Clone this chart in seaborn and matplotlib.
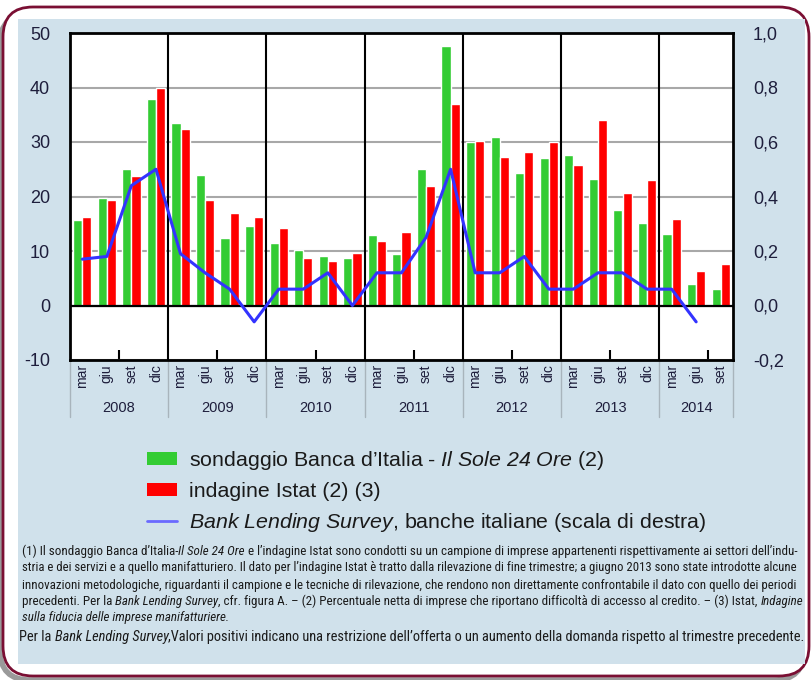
import numpy as np
import pandas as pd
import matplotlib
matplotlib.use('Agg')
import matplotlib.pyplot as plt
import matplotlib.font_manager as fm
import matplotlib.transforms as mtransforms
from matplotlib.patches import Patch, FancyBboxPatch, Rectangle
from matplotlib.lines import Line2D
import seaborn as sns

## Data
years = ['2008', '2009', '2010', '2011', '2012', '2013', '2014']
quarters = ['mar', 'giu', 'set', 'dic']
n_quarters = 27  # 2008 mar ... 2014 set

sondaggio = [15.6, 19.7, 25.1, 37.9, 33.5, 23.9, 12.3, 14.5, 11.5, 10.1, 9.0, 8.8, 12.9, 9.4,
             25.1, 47.7, 30.0, 30.9, 24.3, 27.1, 27.7, 23.2, 17.6, 15.1, 13.2, 4.0, 3.0]
istat = [16.2, 19.4, 23.8, 39.9, 32.3, 19.4, 17.0, 16.2, 14.2, 8.8, 8.1, 9.7, 11.9, 13.5,
         21.9, 36.9, 30.2, 27.3, 28.1, 30.0, 25.7, 34.0, 20.6, 23.0, 15.9, 6.4, 7.7]
bls = [0.17, 0.18, 0.44, 0.50, 0.19, 0.12, 0.06, -0.06, 0.06, 0.06, 0.12, 0.0, 0.12, 0.12,
       0.25, 0.50, 0.12, 0.12, 0.18, 0.06, 0.06, 0.12, 0.12, 0.06, 0.06, -0.06]

left_ticks = [-10, 0, 10, 20, 30, 40, 50]
right_ticks = [-0.2, 0.0, 0.2, 0.4, 0.6, 0.8, 1.0]

periods = [f'{y} {q}' for y in years for q in quarters][:n_quarters]
q_labels = [p.split()[1] for p in periods]

lab_sond = 'sondaggio Banca d\u2019Italia'
lab_istat = 'indagine Istat'
df = pd.DataFrame({'periodo': periods * 2,
                   'valore': sondaggio + istat,
                   'serie': [lab_sond] * n_quarters + [lab_istat] * n_quarters})
df_bls = pd.DataFrame({'pos': np.arange(len(bls)), 'bls': bls})

GREEN = '#33cc33'
RED = '#ff0000'
BLUE = '#3333ff'
PANEL = '#d0e1eb'
MAROON = '#7a0f33'
TXT = '#1e1e3c'

sns.set_theme(style='white')
names = {f.name for f in fm.fontManager.ttflist}
NARROW = 'Liberation Sans'
for cand in ['Liberation Sans Narrow', 'Arial Narrow', 'Roboto Condensed', 'Open Sans Condensed']:
    if cand in names:
        NARROW = cand
        break
plt.rcParams['font.family'] = ['Liberation Sans', 'DejaVu Sans']
# math mode is only used for the italic parts of the legend labels
plt.rcParams['mathtext.fontset'] = 'custom'
plt.rcParams['mathtext.rm'] = 'Liberation Sans:italic'
plt.rcParams['mathtext.it'] = 'Liberation Sans:italic'


def it(s):
    return r'$\mathit{' + s.replace(' ', r'\ ') + '}$'


fig = plt.figure(figsize=(8.11, 6.80), dpi=100)
fig.patch.set_facecolor('white')

# frame and panel
fig.patches.append(FancyBboxPatch((0.00, 0.0), 8.04, 6.66, boxstyle='round,pad=0,rounding_size=0.3',
                                  transform=fig.dpi_scale_trans, facecolor='none',
                                  edgecolor='#9a9a9a', lw=4, zorder=-12))
fig.patches.append(FancyBboxPatch((0.03, 0.04), 8.06, 6.69, boxstyle='round,pad=0,rounding_size=0.3',
                                  transform=fig.dpi_scale_trans, facecolor='white',
                                  edgecolor=MAROON, lw=2, zorder=-11))
fig.patches.append(Rectangle((0.18, 0.16), 7.87, 6.45, transform=fig.dpi_scale_trans,
                             facecolor=PANEL, edgecolor='none', zorder=-10))

ax = fig.add_axes([70 / 811, 1 - 360 / 680, 663 / 811, 327 / 680])
ax.set_facecolor('white')
sns.barplot(data=df, x='periodo', y='valore', hue='serie', order=periods,
            palette=[GREEN, RED], width=0.75, saturation=1, errorbar=None,
            legend=False, ax=ax, zorder=2)
ax.set_xlim(-0.5, n_quarters - 0.5)
ax.set_ylim(-10, 50)
ax.set_yticks(left_ticks)
ax.set_yticklabels([str(t) for t in left_ticks])
ax.set_axisbelow(True)
ax.yaxis.grid(True, color='#a8a8a8', lw=1.5)
ax.axhline(0, color='black', lw=1.6, zorder=3)
for b in range(3, n_quarters - 1, 4):
    ax.axvline(b + 0.5, color='black', lw=1.5, zorder=3)
for s in ax.spines.values():
    s.set_color('black')
    s.set_linewidth(2)
    s.set_visible(True)
ax.set_xlabel('')
ax.set_ylabel('')

# quarter labels and boundary ticks
ax.set_xticks(range(n_quarters))
ax.set_xticklabels(q_labels, rotation=90, fontsize=10, color=TXT)
ax.tick_params(axis='x', length=0, pad=3)
ax.tick_params(axis='y', length=0, pad=14.4, labelsize=13, labelcolor=TXT)
short = [i + 0.5 for i in range(n_quarters - 1) if i % 4 in (0, 2)]
tall = [i + 0.5 for i in range(n_quarters - 1) if i % 4 == 1]
ax.set_xticks(short, minor=True)
ax.tick_params(axis='x', which='minor', direction='in', length=4.5, width=1.5, color='black')
sec = ax.secondary_xaxis('bottom')
sec.set_xticks(tall)
sec.tick_params(direction='in', length=7.5, width=1.5, color='black', labelbottom=False)
sec.spines['bottom'].set_visible(False)

# year labels and separators
trans = mtransforms.blended_transform_factory(ax.transData, ax.transAxes)
for k, y in enumerate(years):
    first = k * 4
    last = min(first + 3, n_quarters - 1)
    ax.text((first + last) / 2, -0.147, y, transform=trans, ha='center', va='center',
            fontsize=10.5, color=TXT)
for b in [-0.5] + [i + 0.5 for i in range(3, n_quarters - 1, 4)] + [n_quarters - 0.5]:
    ax.plot([b, b], [0, -0.174], transform=trans, color='#a8b4bc', lw=1, clip_on=False)

# right axis: Bank Lending Survey
ax2 = ax.twinx()
sns.lineplot(data=df_bls, x='pos', y='bls', color=BLUE, lw=2.2, ax=ax2, zorder=5)
ax2.set_ylim(-0.2, 1.0)
ax2.set_yticks(right_ticks)
ax2.set_yticklabels([f'{t:.1f}'.replace('.', ',') for t in right_ticks])
ax2.tick_params(axis='y', length=0, pad=14.4, labelsize=13, labelcolor=TXT)
ax2.set_ylabel('')
ax2.grid(False)
for s in ax2.spines.values():
    s.set_visible(False)

# legend
handles = [Patch(facecolor=GREEN, edgecolor='none'),
           Patch(facecolor=RED, edgecolor='none'),
           Line2D([], [], color='#6a6aff', lw=2)]
labels = ['sondaggio Banca d\u2019Italia - ' + it('Il Sole 24 Ore') + ' (2)',
          'indagine Istat (2) (3)',
          it('Bank Lending Survey') + ', banche italiane (scala di destra)']
leg = fig.legend(handles, labels, loc='upper left', bbox_to_anchor=(147 / 811, 1 - 449 / 680),
                 frameon=False, fontsize=15.4, handlelength=1.4, handleheight=0.58,
                 handletextpad=0.55, labelspacing=0.46, borderpad=0, borderaxespad=0)
for t in leg.get_texts():
    t.set_color('#1a1a1a')

# footnotes: each line is a chain of plain / italic pieces
notes = [
    [('(1) Il sondaggio Banca d\u2019Italia-', False), ('Il Sole 24 Ore', True),
     (' e l\u2019indagine Istat sono condotti su un campione di imprese appartenenti rispettivamente ai settori dell\u2019indu-', False)],
    [('stria e dei servizi e a quello manifatturiero. Il dato per l\u2019indagine Istat \u00e8 tratto dalla rilevazione di fine trimestre; a giugno 2013 sono state introdotte alcune', False)],
    [('innovazioni metodologiche, riguardanti il campione e le tecniche di rilevazione, che rendono non direttamente confrontabile il dato con quello dei periodi', False)],
    [('precedenti. Per la ', False), ('Bank Lending Survey', True),
     (', cfr. figura A. \u2013 (2) Percentuale netta di imprese che riportano difficolt\u00e0 di accesso al credito. \u2013 (3) Istat, ', False),
     ('Indagine', True)],
    [('sulla fiducia delle imprese manifatturiere.', True)],
]
last_line = [('Per la ', False), ('Bank Lending Survey', True),
             (',Valori positivi indicano una restrizione dell\u2019offerta o un aumento della domanda rispetto al trimestre precedente.', False)]
note_y = [551, 568, 585, 602, 618]


def rich_line(x_px, y_px, parts, size):
    pieces = []
    for s, ital in parts:
        kw = dict(fontsize=size, family=NARROW, color='#1a1a1a',
                  style='italic' if ital else 'normal')
        if not pieces:
            t = fig.text(x_px / 811, 1 - y_px / 680, s, ha='left', va='center', **kw)
        else:
            t = ax.annotate(s, xy=(1, 0), xycoords=pieces[-1], ha='left', va='bottom',
                            annotation_clip=False, **kw)
        pieces.append(t)
    return pieces


note_lines = [rich_line(22, yy, parts, 9) for parts, yy in zip(notes, note_y)]
final_line = rich_line(19, 637, last_line, 10)

# fit the justified footnote lines to the panel width
fig.canvas.draw()
renderer = fig.canvas.get_renderer()


def line_width(pieces):
    return pieces[-1].get_window_extent(renderer).x1 - pieces[0].get_window_extent(renderer).x0


def scale_line(pieces, factor):
    for t in pieces:
        t.set_fontsize(t.get_fontsize() * factor)


for pieces in note_lines[:4]:
    scale_line(pieces, 778 / line_width(pieces))
    fig.canvas.draw()
scale_line(note_lines[4], note_lines[3][0].get_fontsize() / note_lines[4][0].get_fontsize())
scale_line(final_line, 783 / line_width(final_line))

fig.savefig('out.png', dpi=100)
